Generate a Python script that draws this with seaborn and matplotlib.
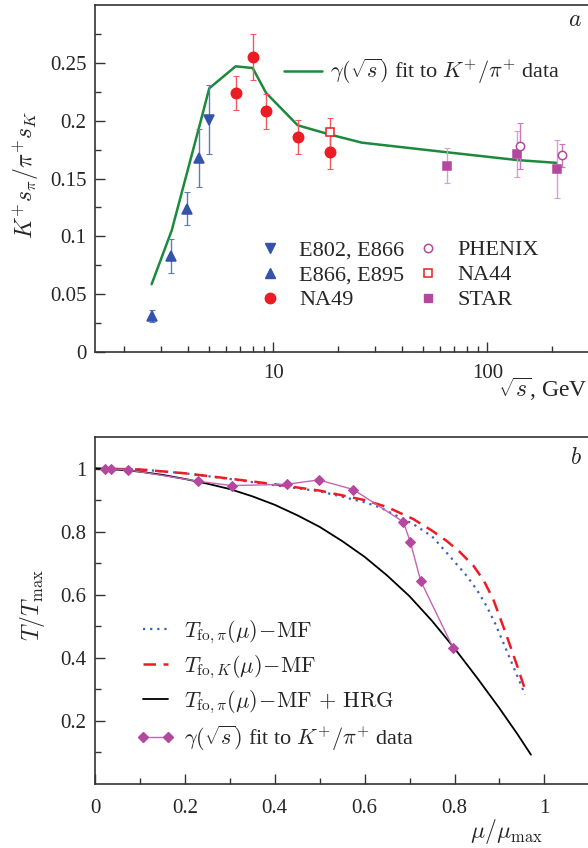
import matplotlib
matplotlib.use("Agg")
import matplotlib.pyplot as plt
import numpy as np
import pandas as pd
import seaborn as sns
from matplotlib.lines import Line2D
from matplotlib.ticker import FixedLocator, FixedFormatter, NullFormatter

sns.set_style("ticks")
plt.rcParams["font.family"] = ["Liberation Serif", "DejaVu Serif"]
plt.rcParams["mathtext.fontset"] = "cm"

# ---- panel a: K+/pi+ ratio vs sqrt(s) ----
fit_sqrt_s = [2.70, 3.35, 4.51, 5.02, 6.67, 8.01, 9.25, 13.0, 18.4, 25.9, 64.6, 137, 211]
fit_ratio = [0.0586, 0.105, 0.195, 0.228, 0.247, 0.2455, 0.224, 0.196, 0.188, 0.181, 0.1727, 0.166, 0.1635]

e802_x = [5.02]
e802_y = [0.201]
e802_err = [0.030]

e866_x = [2.70, 3.34, 3.94, 4.51]
e866_y = [0.031, 0.083, 0.124, 0.168]
e866_err = [0.005, 0.015, 0.0145, 0.025]

na49_x = [6.67, 8.01, 9.22, 13.04, 18.4]
na49_y = [0.224, 0.255, 0.208, 0.186, 0.173]
na49_err = [0.015, 0.020, 0.015, 0.015, 0.015]

na44_x = [18.4]
na44_y = [0.190]
na44_err = [0.0125]

star_x = [65.0, 138, 211]
star_y = [0.161, 0.171, 0.158]
star_err = [0.015, 0.020, 0.025]

phenix_x = [142, 223]
phenix_y = [0.178, 0.170]
phenix_err = [0.020, 0.010]

# ---- panel b: T/Tmax vs mu/mu_max ----
mu_pi = [0, 0.1, 0.2, 0.3, 0.4, 0.5, 0.6, 0.634, 0.708, 0.75, 0.782, 0.827, 0.85, 0.871, 0.89, 0.905, 0.93, 0.957]
T_pi = [1.0, 0.997, 0.985, 0.967, 0.947, 0.928, 0.893, 0.877, 0.824, 0.785, 0.734, 0.66, 0.615, 0.565, 0.51, 0.46, 0.375, 0.283]

mu_K = [0, 0.1, 0.2, 0.3, 0.4, 0.5, 0.6, 0.65, 0.708, 0.75, 0.782, 0.81, 0.842, 0.865, 0.886, 0.9, 0.916, 0.94, 0.96]
T_K = [1.0, 0.997, 0.985, 0.968, 0.95, 0.93, 0.90, 0.878, 0.84, 0.803, 0.771, 0.738, 0.692, 0.645, 0.586, 0.532, 0.47, 0.372, 0.286]

mu_hrg = [0, 0.05, 0.1, 0.15, 0.2, 0.25, 0.3, 0.35, 0.4, 0.45, 0.5, 0.55, 0.6, 0.65, 0.7, 0.75, 0.8, 0.85, 0.9, 0.94, 0.97]
T_hrg = [1.0, 0.997, 0.99, 0.98, 0.967, 0.952, 0.935, 0.912, 0.885, 0.852, 0.815, 0.77, 0.72, 0.661, 0.595, 0.517, 0.43, 0.337, 0.24, 0.158, 0.093]

mu_gamma = [0.022, 0.035, 0.074, 0.2285, 0.304, 0.4265, 0.4977, 0.5747, 0.686, 0.702, 0.7246, 0.797]
T_gamma = [1.0, 1.0, 0.9956, 0.96, 0.946, 0.950, 0.964, 0.9335, 0.831, 0.766, 0.644, 0.431]

green = "#1b8a3c"
blue = "#3553a8"
red = "#ec1c24"
magenta = "#b5479f"

fig = plt.figure(figsize=(5.88, 8.48), dpi=100)
ax1 = fig.add_axes([95 / 588, 1 - 352 / 848, 493 / 588, 347 / 848])
ax2 = fig.add_axes([95 / 588, 1 - 784 / 848, 493 / 588, 347 / 848])

# panel a
sns.lineplot(x=fit_sqrt_s, y=fit_ratio, ax=ax1, color=green, lw=1.8, estimator=None, sort=False)

def points(ax, x, y, err, marker, color, barcolor, ms, face=None):
    ax.errorbar(x, y, yerr=err, fmt="none", ecolor=barcolor, elinewidth=1.0, capsize=2, capthick=0.8, zorder=3)
    ax.plot(x, y, ls="none", marker=marker, ms=ms, color=color,
            mfc=face if face else color, mec=color, mew=1.1, zorder=4)

points(ax1, e866_x, e866_y, e866_err, "^", blue, "#5f78c4", 7)
points(ax1, e802_x, e802_y, e802_err, "v", blue, "#5f78c4", 7)
points(ax1, na49_x, na49_y, na49_err, "o", red, "#f0595d", 7.5)
points(ax1, na44_x, na44_y, na44_err, "s", red, "#f0595d", 5.5, face="white")
points(ax1, star_x, star_y, star_err, "s", magenta, "#d99fcf", 6)
points(ax1, phenix_x, phenix_y, phenix_err, "o", magenta, "#c67ab9", 6, face="white")

ax1.set_xscale("log")
ax1.set_xlim(1.468, 295.5)
ax1.set_ylim(0, 0.3)
ax1.xaxis.set_major_locator(FixedLocator([10, 100]))
ax1.xaxis.set_major_formatter(FixedFormatter(["10", "100"]))
ax1.xaxis.set_minor_locator(FixedLocator([2, 3, 4, 5, 6, 7, 8, 9, 20, 30, 40, 50, 60, 70, 80, 90, 200]))
ax1.xaxis.set_minor_formatter(NullFormatter())
ax1.yaxis.set_major_locator(FixedLocator([0, 0.05, 0.1, 0.15, 0.2, 0.25]))
ax1.yaxis.set_major_formatter(FixedFormatter(["0", "0.05", "0.1", "0.15", "0.2", "0.25"]))
ax1.yaxis.set_minor_locator(FixedLocator([0.025, 0.075, 0.125, 0.175, 0.225, 0.275]))

leg1 = ax1.legend(handles=[Line2D([], [], color=green, lw=1.8)],
                  labels=[r"$\gamma(\sqrt{s})$ fit to $K^{+}/\pi^{+}$ data"],
                  loc="center left", bbox_to_anchor=(0.383, 0.808), frameon=False,
                  fontsize=16, handlelength=1.7, handletextpad=0.4, borderpad=0, borderaxespad=0)
ax1.add_artist(leg1)
marker_handles = [
    Line2D([], [], ls="none", marker="v", ms=7, color=blue),
    Line2D([], [], ls="none", marker="^", ms=7, color=blue),
    Line2D([], [], ls="none", marker="o", ms=7.5, color=red),
    Line2D([], [], ls="none", marker="o", ms=6, color=magenta, mfc="white", mew=1.1),
    Line2D([], [], ls="none", marker="s", ms=5.5, color=red, mfc="white", mew=1.1),
    Line2D([], [], ls="none", marker="s", ms=6, color=magenta),
]
marker_labels = ["E802, E866", "E866, E895", "NA49", "PHENIX", "NA44", "STAR"]
ax1.legend(handles=marker_handles, labels=marker_labels, ncol=2, loc="upper left",
           bbox_to_anchor=(0.337, 0.323), frameon=False, fontsize=16, handlelength=0.8,
           handletextpad=0.9, columnspacing=0.7, labelspacing=0.2, borderpad=0, borderaxespad=0)

ax1.set_ylabel(r"$K^{+}s_{\pi}/\pi^{+}s_{K}$", fontsize=17)
ax1.yaxis.set_label_coords(-0.11, 0.51)
ax1.set_xlabel(r"$\sqrt{s}$, GeV", fontsize=17, loc="right")
ax1.xaxis.label.set_va("center")
ax1.xaxis.set_label_coords(1.0, -0.107)
ax1.text(0.974, 0.954, r"$a$", transform=ax1.transAxes, fontsize=17, ha="center", va="center")

# panel b
sns.lineplot(x=mu_pi, y=T_pi, ax=ax2, color="#3f5fbf", lw=1.6, ls=(0, (1, 2.2)), estimator=None)
sns.lineplot(x=mu_K, y=T_K, ax=ax2, color=red, lw=1.8, ls=(0, (5, 3)), estimator=None)
sns.lineplot(x=mu_hrg, y=T_hrg, ax=ax2, color="black", lw=1.3, estimator=None)
sns.lineplot(x=mu_gamma, y=T_gamma, ax=ax2, color="#c464b4", lw=1.0, marker="D", ms=5.5,
             mfc=magenta, mec=magenta, estimator=None, sort=False)

ax2.set_xlim(0, 1.097)
ax2.set_ylim(0, 1.1)
ax2.xaxis.set_major_locator(FixedLocator([0, 0.2, 0.4, 0.6, 0.8, 1.0]))
ax2.xaxis.set_major_formatter(FixedFormatter(["0", "0.2", "0.4", "0.6", "0.8", "1"]))
ax2.xaxis.set_minor_locator(FixedLocator([0.1, 0.3, 0.5, 0.7, 0.9]))
ax2.yaxis.set_major_locator(FixedLocator([0.2, 0.4, 0.6, 0.8, 1.0]))
ax2.yaxis.set_major_formatter(FixedFormatter(["0.2", "0.4", "0.6", "0.8", "1"]))
ax2.yaxis.set_minor_locator(FixedLocator([0.1, 0.3, 0.5, 0.7, 0.9]))

b_handles = [
    Line2D([], [], color="#3f5fbf", lw=1.6, ls=(0, (1, 2.2))),
    Line2D([], [], color=red, lw=1.8, ls=(0, (5, 3))),
    Line2D([], [], color="black", lw=1.3),
    Line2D([], [], color="#c464b4", lw=1.0, marker="D", ms=5.5, mfc=magenta, mec=magenta),
]
b_labels = [
    r"$T_{\mathrm{fo},\pi}(\mu)\!-\!\mathrm{MF}$",
    r"$T_{\mathrm{fo},K}(\mu)\!-\!\mathrm{MF}$",
    r"$T_{\mathrm{fo},\pi}(\mu)\!-\!\mathrm{MF}\,+\,\mathrm{HRG}$",
    r"$\gamma(\sqrt{s})$ fit to $K^{+}/\pi^{+}$ data",
]
ax2.legend(handles=b_handles, labels=b_labels, loc="upper left", bbox_to_anchor=(0.0846, 0.478),
           frameon=False, fontsize=16, handlelength=1.7, handletextpad=0.45, labelspacing=0.35,
           numpoints=2, borderpad=0, borderaxespad=0)

ax2.set_ylabel(r"$T/T_{\mathrm{max}}$", fontsize=17)
ax2.yaxis.set_label_coords(-0.098, 0.516)
ax2.set_xlabel(r"$\mu/\mu_{\mathrm{max}}$", fontsize=17, loc="right")
ax2.xaxis.label.set_va("center")
ax2.xaxis.set_label_coords(0.909, -0.138)
ax2.text(0.976, 0.939, r"$b$", transform=ax2.transAxes, fontsize=17, ha="center", va="center")

for ax in (ax1, ax2):
    ax.spines["right"].set_visible(False)
    for s in ("left", "bottom", "top"):
        ax.spines[s].set_linewidth(1.2)
        ax.spines[s].set_color("#333333")
    ax.tick_params(which="both", direction="in", top=False, right=False, labelsize=15, color="#333333")
    ax.tick_params(which="major", length=7, width=1.0)
    ax.tick_params(which="minor", length=4.5, width=1.0)
    ax.tick_params(axis="y", pad=6)
ax1.tick_params(axis="x", pad=9)
ax2.tick_params(axis="x", pad=11)

fig.savefig("out.png", dpi=100)
